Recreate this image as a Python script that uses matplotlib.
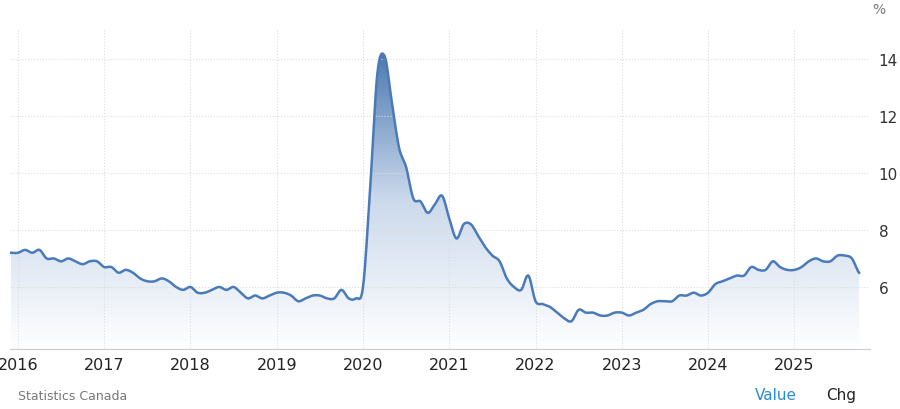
import numpy as np
import matplotlib.pyplot as plt
from matplotlib.patches import Polygon
from matplotlib.colors import LinearSegmentedColormap

# monthly unemployment rate, Dec 2015 .. Nov 2025
rate = [7.2,
        7.2, 7.3, 7.2, 7.3, 7.0, 7.0, 6.9, 7.0, 6.9, 6.8, 6.9, 6.9,
        6.7, 6.7, 6.5, 6.6, 6.5, 6.3, 6.2, 6.2, 6.3, 6.2, 6.0, 5.9,
        6.0, 5.8, 5.8, 5.9, 6.0, 5.9, 6.0, 5.8, 5.6, 5.7, 5.6, 5.7,
        5.8, 5.8, 5.7, 5.5, 5.6, 5.7, 5.7, 5.6, 5.6, 5.9, 5.6, 5.6,
        6.0, 9.5, 13.5, 14.1, 12.5, 10.9, 10.2, 9.1, 9.0, 8.6, 8.9, 9.2,
        8.4, 7.7, 8.2, 8.2, 7.8, 7.4, 7.1, 6.9, 6.3, 6.0, 5.9, 6.4,
        5.5, 5.4, 5.3, 5.1, 4.9, 4.8, 5.2, 5.1, 5.1, 5.0, 5.0, 5.1,
        5.1, 5.0, 5.1, 5.2, 5.4, 5.5, 5.5, 5.5, 5.7, 5.7, 5.8, 5.7,
        5.8, 6.1, 6.2, 6.3, 6.4, 6.4, 6.7, 6.6, 6.6, 6.9, 6.7, 6.6,
        6.6, 6.7, 6.9, 7.0, 6.9, 6.9, 7.1, 7.1, 7.0, 6.5]
years = [2016, 2017, 2018, 2019, 2020, 2021, 2022, 2023, 2024, 2025]
yticks = [6, 8, 10, 12, 14]

t = 2015 + 11 / 12 + np.arange(len(rate)) / 12
r = np.array(rate)

# smooth the drawn curve a little (catmull-rom through the monthly points)
p = np.concatenate([[r[0]], r, [r[-1]]])
xs, ys = [], []
for i in range(len(r) - 1):
    for s in np.linspace(0, 1, 8, endpoint=False):
        p0, p1, p2, p3 = p[i], p[i + 1], p[i + 2], p[i + 3]
        y = 0.5 * (2 * p1 + (-p0 + p2) * s + (2 * p0 - 5 * p1 + 4 * p2 - p3) * s ** 2
                   + (-p0 + 3 * p1 - 3 * p2 + p3) * s ** 3)
        xs.append(t[i] + s / 12)
        ys.append(y)
xs.append(t[-1]); ys.append(r[-1])
xs = np.array(xs); ys = np.array(ys)

fig = plt.figure(figsize=(9, 4.1), dpi=100)
ax = fig.add_axes([0.011, 0.146, 0.956, 0.781])
ymin, ymax = 3.82, 15.05
ax.set_xlim(2015.907, 2025.88)
ax.set_ylim(ymin, ymax)

# gradient fill under curve
grad = np.linspace(0, 1, 256).reshape(-1, 1)
cmap = LinearSegmentedColormap.from_list('g', ['#ffffff', '#cbd9ec', '#4a77b0'])
im = ax.imshow(grad, extent=[xs[0], xs[-1], ymin, 14.3], origin='lower',
               aspect='auto', cmap=cmap, zorder=1)
poly = Polygon(np.column_stack([np.r_[xs[0], xs, xs[-1]], np.r_[ymin, ys, ymin]]),
               closed=True, facecolor='none', edgecolor='none')
ax.add_patch(poly)
im.set_clip_path(poly)
ax.plot(xs, ys, color='#4a7ab8', lw=1.8, zorder=3)

ax.set_xticks(years)
ax.set_xticklabels([str(y) for y in years], fontsize=11.5, color='#222222')
ax.yaxis.tick_right()
ax.set_yticks(yticks)
ax.set_yticklabels([str(y) for y in yticks], fontsize=11, color='#333333')
ax.tick_params(length=0, pad=6)
ax.grid(True, color='#dddddd', ls=':', lw=0.8, zorder=0)
for s in ['top', 'left', 'right']:
    ax.spines[s].set_visible(False)
ax.spines['bottom'].set_color('#cccccc')

fig.text(0.977, 0.965, '%', fontsize=10, color='#777777', ha='center')
fig.text(0.02, 0.025, 'Statistics Canada', fontsize=9, color='#777777')
fig.text(0.862, 0.025, 'Value', fontsize=11, color='#2a8bd6', ha='center')
fig.text(0.935, 0.025, 'Chg', fontsize=11, color='#222222', ha='center')

fig.savefig('out.png', dpi=100)
